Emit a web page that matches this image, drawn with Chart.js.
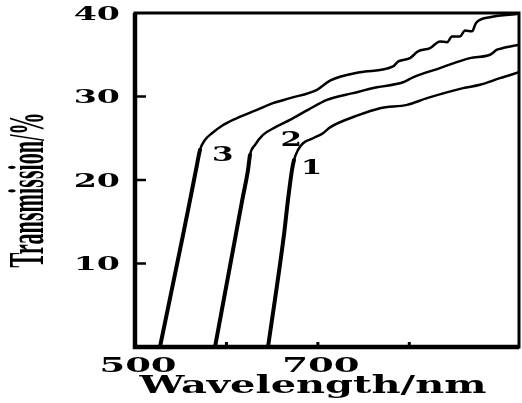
<!DOCTYPE html>
<html>
<head>
<meta charset="utf-8">
<script src="https://cdn.jsdelivr.net/npm/chart.js@4"></script>
<style>
  html, body { margin: 0; padding: 0; background: #fff; }
  canvas { display: block; }
</style>
</head>
<body>
<canvas id="chart" width="522" height="403"></canvas>
<script>
// values (wavelength in nm, transmission in %)
const curve1Wavelength = [645.5, 662.9, 667.3, 671.7, 673.9, 678.3, 683.8, 694.7, 705.6, 713.3, 742.8, 768, 797.5, 819.4, 858.8, 877.3, 899.2, 920];
const curve1Transmission = [0, 13.4, 17.6, 21.2, 22.4, 23.6, 24.4, 25.0, 25.6, 26.3, 27.7, 28.6, 29.0, 29.8, 31.0, 31.4, 32.2, 32.9];

const curve2Wavelength = [587.5, 610.2, 617.3, 623.6, 625.8, 631.3, 640, 653.1, 669.5, 689.2, 710, 738.4, 764.7, 793.1, 804.1, 833.6, 866.4, 888.3, 895.9, 902.5, 920];
const curve2Transmission = [0, 13.4, 17.6, 21.2, 23.0, 24.2, 25.4, 26.3, 27.2, 28.4, 29.6, 30.4, 31.1, 31.7, 32.3, 33.4, 34.6, 35.0, 35.6, 35.8, 36.2];

const curve3Wavelength = [527.3, 552.5, 560.2, 566.7, 571.1, 576.6, 584.2, 595.2, 607.2, 633.4, 650.9, 669.5, 699, 713.3, 746.1, 782.2, 788, 800.8, 809.5, 822.7, 833.6, 841.3, 846.7, 855.5, 861, 868.6, 873, 888.3, 920];
const curve3Transmission = [0, 13.4, 17.6, 21.2, 23.6, 24.8, 25.6, 26.5, 27.2, 28.4, 29.2, 29.8, 30.8, 31.9, 32.9, 33.6, 34.2, 34.6, 35.4, 35.8, 36.6, 36.5, 37.2, 37.2, 37.9, 37.8, 38.8, 39.5, 39.9];

const curveNames = ["1", "2", "3"];
const yTickValues = [10, 20, 30, 40];
const xTickValues = [500, 700];
const xMinorTicks = [600, 700, 800];

const toPoints = (xs, ys) => xs.map((x, i) => ({ x: x, y: ys[i] }));

// horizontally stretched text, the original uses a very wide bold face
function wideText(ctx, text, x, y, sx, align) {
  ctx.save();
  ctx.translate(x, y);
  ctx.scale(sx, 1);
  ctx.textAlign = align;
  ctx.textBaseline = "alphabetic";
  ctx.fillText(text, 0, 0);
  ctx.restore();
}

const figurePlugin = {
  id: "figure",
  afterDraw(chart) {
    const ctx = chart.ctx;
    const a = chart.chartArea;
    const xs = chart.scales.x, ys = chart.scales.y;
    ctx.save();
    ctx.strokeStyle = "#000";
    ctx.fillStyle = "#000";

    // frame
    ctx.lineWidth = 3;
    ctx.strokeRect(a.left, a.top, a.right - a.left, a.bottom - a.top);
    ctx.lineWidth = 4.5;
    ctx.beginPath();
    ctx.moveTo(a.left, a.top);
    ctx.lineTo(a.left, a.bottom);
    ctx.lineTo(a.right, a.bottom);
    ctx.stroke();

    // inward ticks
    ctx.lineWidth = 2.5;
    yTickValues.slice(0, 3).forEach(v => {
      const py = ys.getPixelForValue(v);
      ctx.beginPath();
      ctx.moveTo(a.left, py);
      ctx.lineTo(a.left + 11, py);
      ctx.stroke();
    });
    ctx.lineWidth = 3;
    xMinorTicks.forEach(v => {
      const px = xs.getPixelForValue(v);
      ctx.beginPath();
      ctx.moveTo(px, a.bottom);
      ctx.lineTo(px, a.bottom - 5);
      ctx.stroke();
    });

    // tick labels
    ctx.font = 'bold 18px "DejaVu Serif"';
    yTickValues.forEach(v => {
      wideText(ctx, String(v), a.left - 15, ys.getPixelForValue(v) + 6.5, 1.85, "right");
    });
    ctx.font = 'bold 20px "DejaVu Serif"';
    xTickValues.forEach(v => {
      wideText(ctx, String(v), xs.getPixelForValue(v) + 3, 372, 1.85, "center");
    });

    // axis titles
    const xt = "Wavelength/nm";
    ctx.font = 'bold 25px "DejaVu Serif"';
    wideText(ctx, xt, 313, 393, 347 / ctx.measureText(xt).width, "center");

    const yt = "Transmission/%";
    ctx.save();
    ctx.translate(43, 190);
    ctx.rotate(-Math.PI / 2);
    ctx.font = 'bold 50px "Liberation Serif"';
    wideText(ctx, yt, 0, 0, 155 / ctx.measureText(yt).width, "center");
    ctx.restore();

    // curve numbers
    const labelAt = [[693, 21.6], [671, 24.9], [596, 23.1]];
    ctx.font = 'bold 20px "DejaVu Serif"';
    curveNames.forEach((name, i) => {
      const px = xs.getPixelForValue(labelAt[i][0]);
      const py = ys.getPixelForValue(labelAt[i][1]);
      wideText(ctx, name, px, py + 7.3, 1.55, "center");
    });
    ctx.restore();
  }
};

// steep absorption edge is drawn heavier than the flat part
const lineStyle = {
  borderColor: "#000",
  borderWidth: 2.5,
  pointRadius: 0,
  fill: false,
  cubicInterpolationMode: "monotone",
  borderCapStyle: "round",
  borderJoinStyle: "round",
  segment: {
    borderWidth: c => Math.abs(c.p1.y - c.p0.y) > 2.5 * Math.abs(c.p1.x - c.p0.x) ? 4 : 2.5
  }
};

new Chart(document.getElementById("chart"), {
  type: "line",
  data: {
    datasets: [
      { label: curveNames[0], data: toPoints(curve1Wavelength, curve1Transmission), ...lineStyle },
      { label: curveNames[1], data: toPoints(curve2Wavelength, curve2Transmission), ...lineStyle },
      { label: curveNames[2], data: toPoints(curve3Wavelength, curve3Transmission), ...lineStyle }
    ]
  },
  options: {
    responsive: false,
    animation: false,
    layout: { padding: { top: 13, right: 3, left: 0, bottom: 0 } },
    plugins: {
      legend: { display: false },
      tooltip: { enabled: false }
    },
    scales: {
      x: {
        type: "linear",
        min: 500,
        max: 920,
        grid: { display: false },
        border: { display: false },
        ticks: { display: false },
        afterFit: s => { s.height = 56; }
      },
      y: {
        min: 0,
        max: 40,
        grid: { display: false },
        border: { display: false },
        ticks: { display: false, stepSize: 10 },
        afterFit: s => { s.width = 135; }
      }
    }
  },
  plugins: [figurePlugin]
});
</script>
</body>
</html>
